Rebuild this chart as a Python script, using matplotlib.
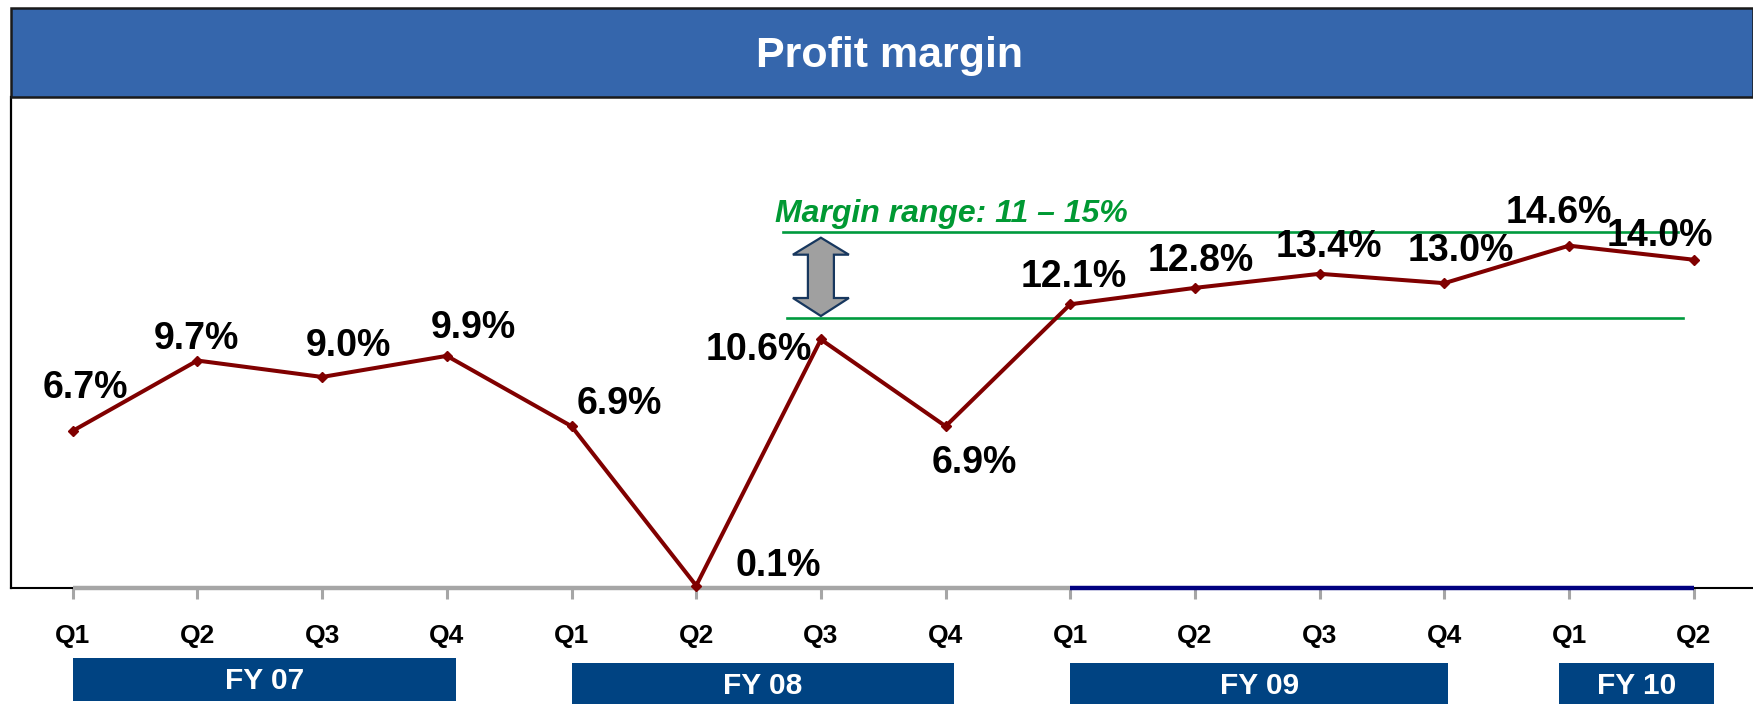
import matplotlib
matplotlib.use('Agg')
import matplotlib.pyplot as plt
import matplotlib.patches as mpatches
import matplotlib.transforms as mtrans
import numpy as np

# ---------------- data ----------------
title = 'Profit margin'
quarters = ['Q1', 'Q2', 'Q3', 'Q4', 'Q1', 'Q2', 'Q3', 'Q4',
            'Q1', 'Q2', 'Q3', 'Q4', 'Q1', 'Q2']
margins = [6.7, 9.7, 9.0, 9.9, 6.9, 0.1, 10.6, 6.9,
           12.1, 12.8, 13.4, 13.0, 14.6, 14.0]
fiscal_years = ['FY 07', 'FY 08', 'FY 09', 'FY 10']
fy_first_q = [0, 4, 8, 12]
fy_last_q = [3, 7, 11, 13]
range_label = 'Margin range: 11 \u2013 15%'
margin_range = [11.53, 15.19]   # drawn lower / upper guide lines

# ---------------- layout ----------------
plt.rcParams['font.family'] = ['Liberation Sans', 'DejaVu Sans']
W, H = 1753, 704
fig = plt.figure(figsize=(W / 100, H / 100), dpi=100)
fig.patch.set_facecolor('white')

ax_left, ax_right, ax_top, ax_bottom = 11, W, 97, 588
ax = fig.add_axes([ax_left / W, 1 - ax_bottom / H,
                   (ax_right - ax_left) / W, (ax_bottom - ax_top) / H])
XL = (-0.495, 13.475)
YL = (0, 20.94)
ax.set_xlim(*XL)
ax.set_ylim(*YL)

x = np.arange(len(margins))

# main line
ax.plot(x, margins, color='#800000', lw=2.9, marker='D', ms=5,
        zorder=6, clip_on=False)

# spines
for s in ['top', 'right', 'bottom']:
    ax.spines[s].set_visible(False)
ax.spines['left'].set_color('black')
ax.spines['left'].set_linewidth(1.6)
ax.set_yticks([])

# custom baseline segments
ax.plot([XL[0], 0], [0, 0], color='black', lw=1.5, clip_on=False, zorder=3)
ax.plot([0, 8], [0, 0], color='#A6A6A6', lw=3.2, clip_on=False, zorder=3,
        solid_capstyle='butt')
ax.plot([8, 13], [0, 0], color='#000080', lw=3.2, clip_on=False, zorder=4,
        solid_capstyle='butt')
ax.plot([13, XL[1]], [0, 0], color='black', lw=1.5, clip_on=False, zorder=3)

ax.set_xticks(x)
ax.set_xticklabels(quarters, fontsize=19, fontweight='bold')
ax.tick_params(axis='x', length=8, width=2.2, color='#A6A6A6',
               direction='out', pad=18)

# data labels (offsets in pixels relative to point, baseline anchored)
label_offsets = [(12.5, 33), (-1, 12), (26, 21), (27, 18), (48, 12),
                 (82, 10), (-62, -21), (29, -46.5), (3, 17), (6, 17),
                 (9, 17), (16, 22), (-10, 23), (-34, 14)]
for xi, v, (dx, dy) in zip(x, margins, label_offsets):
    ax.annotate(f'{v:.1f}%', (xi, v), xytext=(dx, dy),
                textcoords='offset pixels', ha='center', va='baseline',
                fontsize=27, fontweight='bold', color='black', zorder=7,
                annotation_clip=False)

# margin range guide lines
green = '#009A3E'
ax.plot([5.70, 12.87], [margin_range[1]] * 2, color=green, lw=1.9, zorder=2)
ax.plot([5.73, 12.91], [margin_range[0]] * 2, color=green, lw=1.9, zorder=2)
ax.text(5.63, 15.6, range_label, color='#009933', fontsize=23,
        fontweight='bold', style='italic', ha='left', va='baseline')

# double-headed arrow between range lines
ppx = (ax_right - ax_left) / (XL[1] - XL[0])
ppy = (ax_bottom - ax_top) / (YL[1] - YL[0])
cx = 6.0
y_lo, y_hi = margin_range[0] + 0.07, margin_range[1] - 0.25
hw_head, hw_shaft = 28 / ppx, 13 / ppx
hl_top, hl_bot = 17 / ppy, 18 / ppy
arrow_pts = [
    (cx, y_hi),
    (cx + hw_head, y_hi - hl_top),
    (cx + hw_shaft, y_hi - hl_top),
    (cx + hw_shaft, y_lo + hl_bot),
    (cx + hw_head, y_lo + hl_bot),
    (cx, y_lo),
    (cx - hw_head, y_lo + hl_bot),
    (cx - hw_shaft, y_lo + hl_bot),
    (cx - hw_shaft, y_hi - hl_top),
    (cx - hw_head, y_hi - hl_top),
]
ax.add_patch(mpatches.Polygon(arrow_pts, closed=True, facecolor='#A0A0A0',
                              edgecolor='#17375E', lw=1.6, zorder=3))

# title band
band = mpatches.Rectangle((ax_left / W, 1 - 97 / H), 1 - ax_left / W,
                          (97 - 8) / H, transform=fig.transFigure,
                          facecolor='#3566AC', edgecolor='#1A1A1A', lw=1.8,
                          zorder=0)
fig.patches.append(band)
fig.text((ax_left + W) / 2 / W + 0.004, 1 - 56 / H, title, color='white',
         fontsize=31, fontweight='bold', ha='center', va='center')

# fiscal year boxes
blend = mtrans.blended_transform_factory(ax.transData, fig.transFigure)
box_pad_left = [0.0, 0.0, 0.0, 0.08]
box_pad_right = [0.07, 0.065, 0.03, 0.16]
box_top_px = [658, 663, 663, 663]
box_bot_px = [701, 706, 706, 706]
text_y_px = [681, 686, 686, 686]
for i, lab in enumerate(fiscal_years):
    x0 = fy_first_q[i] - box_pad_left[i]
    x1 = fy_last_q[i] + box_pad_right[i]
    y0 = 1 - box_bot_px[i] / H
    y1 = 1 - box_top_px[i] / H
    r = mpatches.Rectangle((x0, y0), x1 - x0, y1 - y0, transform=blend,
                           facecolor='#004382', edgecolor='none',
                           clip_on=False, zorder=8)
    ax.add_patch(r)
    ax.text((x0 + x1) / 2, 1 - text_y_px[i] / H, lab, transform=blend,
            color='white', fontsize=21.5, fontweight='bold', ha='center',
            va='center', clip_on=False, zorder=9)

fig.savefig('out.png', dpi=100)
